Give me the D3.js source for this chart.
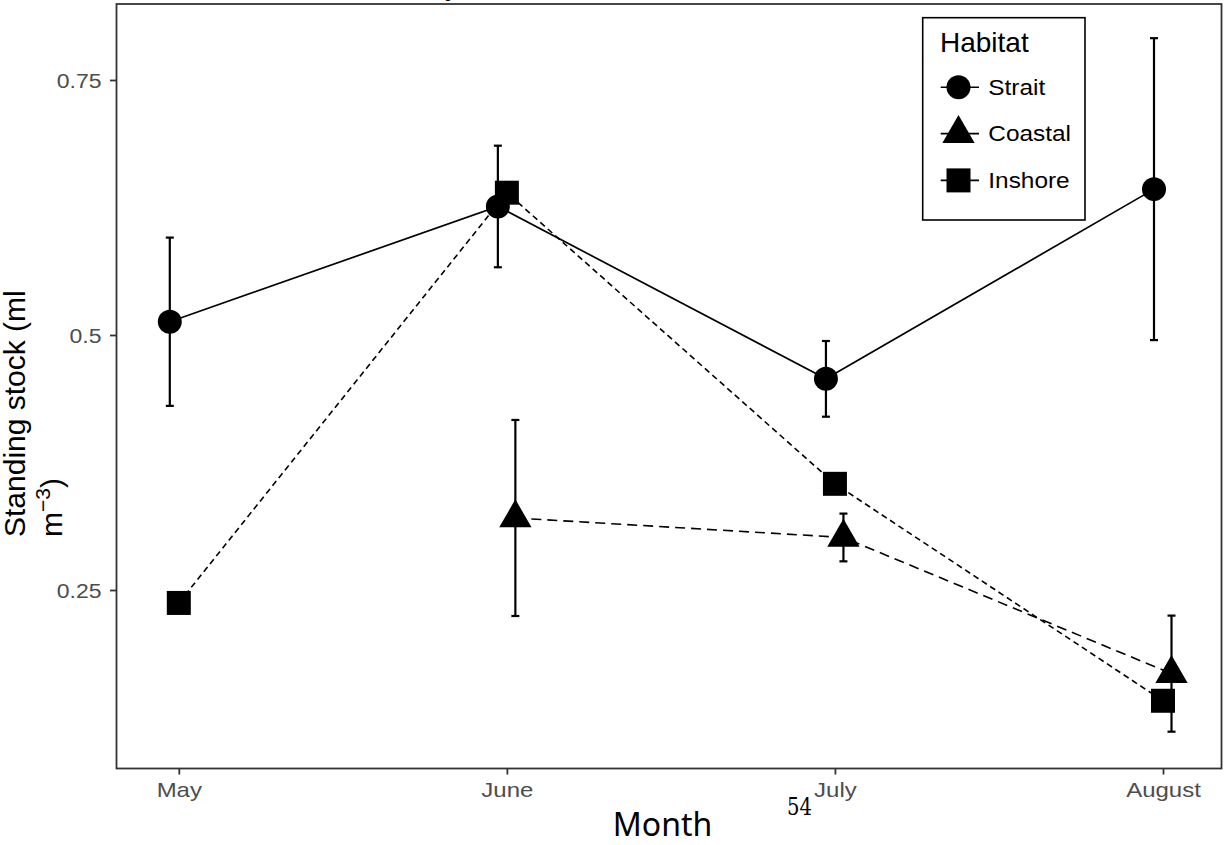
<!DOCTYPE html>
<html>
<head>
<meta charset="utf-8">
<script src="https://d3js.org/d3.v7.min.js"></script>
<style>
  html, body { margin: 0; padding: 0; background: #ffffff; }
  svg { display: block; }
</style>
</head>
<body>
<svg id="chart" width="1225" height="845"></svg>
<script>
// ---- data ----
const months = ["May", "June", "July", "August"];
const habitats = ["Strait", "Coastal", "Inshore"];
const straitMean = [0.513, 0.626, 0.457, 0.643];
const straitErr = [0.0825, 0.0596, 0.0371, 0.148];
const coastalMean = [null, 0.3206, 0.3015, 0.168];
const coastalErr = [null, 0.0961, 0.0234, 0.0569];
const inshoreMean = [0.2373, 0.6395, 0.3541, 0.1414];
const inshoreErr = [null, null, null, null];
const yTickValues = [0.25, 0.5, 0.75];
const yTickLabels = ["0.25", "0.5", "0.75"];
const yDomain = [0.075, 0.8245];

// ---- layout ----
const svg = d3.select("#chart");
const panel = { left: 116.5, right: 1221.5, top: 4, bottom: 768.5 };

const x = d3.scalePoint().domain(months).range([178.8, 1163]).padding(0);
const y = d3.scaleLinear().domain(yDomain).range([panel.bottom, panel.top]);

const dodge = { Strait: -9, Coastal: 8.5, Inshore: 0 };
const dash = { Strait: null, Coastal: "10,6", Inshore: "6,4" };

const series = [
  { name: "Inshore", mean: inshoreMean, err: inshoreErr },
  { name: "Coastal", mean: coastalMean, err: coastalErr },
  { name: "Strait", mean: straitMean, err: straitErr }
];

const symTri = d3.symbol().type(d3.symbolTriangle).size(452);
const symSq = d3.symbol().type(d3.symbolSquare).size(576);

function drawMarker(g, name, cx, cy) {
  if (name === "Strait") {
    g.append("circle").attr("cx", cx).attr("cy", cy).attr("r", 12).attr("fill", "#000");
  } else if (name === "Coastal") {
    g.append("path").attr("d", symTri()).attr("transform", `translate(${cx},${cy})`).attr("fill", "#000");
  } else {
    g.append("path").attr("d", symSq()).attr("transform", `translate(${cx},${cy})`).attr("fill", "#000");
  }
}

// clipped title remnant at top
svg.append("text").attr("x", 445).attr("y", -5.5)
  .attr("font-family", "Liberation Sans, Arial, sans-serif").attr("font-size", 28)
  .attr("fill", "#000").text("y");

// ---- lines ----
const gLines = svg.append("g");
series.forEach(s => {
  const pts = months.map((m, i) => ({ m, v: s.mean[i] })).filter(d => d.v !== null);
  const line = d3.line().x(d => x(d.m) + dodge[s.name]).y(d => y(d.v));
  gLines.append("path")
    .attr("d", line(pts))
    .attr("fill", "none")
    .attr("stroke", "#000")
    .attr("stroke-width", s.name === "Strait" ? 1.7 : 1.6)
    .attr("stroke-dasharray", dash[s.name]);
});

// ---- error bars ----
const gErr = svg.append("g").attr("stroke", "#000").attr("stroke-width", 2.2);
series.forEach(s => {
  months.forEach((m, i) => {
    if (s.mean[i] === null || s.err[i] === null) return;
    const cx = x(m) + dodge[s.name];
    const y0 = y(s.mean[i] - s.err[i]), y1 = y(s.mean[i] + s.err[i]);
    gErr.append("line").attr("x1", cx).attr("x2", cx).attr("y1", y0).attr("y2", y1);
    gErr.append("line").attr("x1", cx - 4).attr("x2", cx + 4).attr("y1", y0).attr("y2", y0);
    gErr.append("line").attr("x1", cx - 4).attr("x2", cx + 4).attr("y1", y1).attr("y2", y1);
  });
});

// ---- points ----
const gPts = svg.append("g");
series.forEach(s => {
  months.forEach((m, i) => {
    if (s.mean[i] === null) return;
    drawMarker(gPts, s.name, x(m) + dodge[s.name], y(s.mean[i]));
  });
});

// ---- panel border ----
svg.append("rect")
  .attr("x", panel.left).attr("y", panel.top)
  .attr("width", panel.right - panel.left).attr("height", panel.bottom - panel.top)
  .attr("fill", "none").attr("stroke", "#333333").attr("stroke-width", 1.8);

// ---- y axis ----
const yAxis = d3.axisLeft(y).tickValues(yTickValues)
  .tickFormat((d, i) => yTickLabels[i]).tickSize(6.5).tickPadding(0);
const gy = svg.append("g").attr("transform", `translate(${panel.left},0)`).call(yAxis);
gy.select(".domain").remove();
gy.selectAll(".tick line").attr("stroke", "#333333").attr("stroke-width", 1.8);
gy.selectAll(".tick text").remove();
gy.selectAll(".tick").each(function (d, i) {
  d3.select(this).append("g")
    .attr("transform", `translate(-15,8) scale(1.18,1)`)
    .append("text")
    .attr("text-anchor", "end")
    .attr("font-family", "Liberation Sans, Arial, sans-serif")
    .attr("font-size", 19.5)
    .attr("fill", "#4d4d4d")
    .text(yTickLabels[i]);
});

// ---- x axis ----
const xAxis = d3.axisBottom(x).tickSize(6).tickPadding(0);
const gx = svg.append("g").attr("transform", `translate(0,${panel.bottom})`).call(xAxis);
gx.select(".domain").remove();
gx.selectAll(".tick line").attr("stroke", "#333333").attr("stroke-width", 1.8);
gx.selectAll(".tick text").remove();
gx.selectAll(".tick").each(function (d) {
  d3.select(this).append("g")
    .attr("transform", `translate(0,28.5) scale(1.2,1)`)
    .append("text")
    .attr("text-anchor", "middle")
    .attr("font-family", "Liberation Sans, Arial, sans-serif")
    .attr("font-size", 20)
    .attr("fill", "#4d4d4d")
    .text(d);
});

// ---- axis titles ----
svg.append("text")
  .attr("x", 662.5).attr("y", 836)
  .attr("text-anchor", "middle")
  .attr("font-family", "Noto Sans, Open Sans, sans-serif")
  .attr("font-size", 32)
  .attr("fill", "#000")
  .text("Month");

const yt = svg.append("text")
  .attr("transform", "translate(25,537) rotate(-90)")
  .attr("font-family", "Liberation Sans, Arial, sans-serif")
  .attr("font-size", 30)
  .attr("fill", "#000");
yt.append("tspan").attr("x", 0).attr("y", 0).text("Standing stock (ml");
yt.append("tspan").attr("x", 0).attr("y", 37).text("m");
yt.append("tspan").attr("dy", -12).attr("font-size", 21).text("\u22123");
yt.append("tspan").attr("dy", 12).text(")");

// page number artifact
svg.append("text")
  .attr("x", 787).attr("y", 815)
  .attr("style", "font-family: 'DejaVu Serif', 'Liberation Serif', serif; font-size: 25px; fill: #000;")
  .attr("textLength", 25)
  .attr("lengthAdjust", "spacingAndGlyphs")
  .text("54");

// ---- legend ----
const lg = svg.append("g");
lg.append("rect").attr("x", 922.7).attr("y", 17.7).attr("width", 162.3).attr("height", 202.3)
  .attr("fill", "#fff").attr("stroke", "#000").attr("stroke-width", 1.6);
lg.append("text").attr("x", 940).attr("y", 51.7)
  .attr("font-family", "Liberation Sans, Arial, sans-serif")
  .attr("font-size", 28).attr("fill", "#000").text("Habitat");
const keyY = [87.3, 133.6, 180.4];
habitats.forEach((h, i) => {
  const cy = keyY[i];
  lg.append("line").attr("x1", 940.7).attr("x2", 979).attr("y1", cy).attr("y2", cy)
    .attr("stroke", "#000").attr("stroke-width", 1.6);
  drawMarker(lg, h, 958.5, cy);
  lg.append("g").attr("transform", `translate(988.3,${cy + 7.5}) scale(1.14,1)`)
    .append("text")
    .attr("font-family", "Liberation Sans, Arial, sans-serif")
    .attr("font-size", 21.4).attr("fill", "#000").text(h);
});
</script>
</body>
</html>
